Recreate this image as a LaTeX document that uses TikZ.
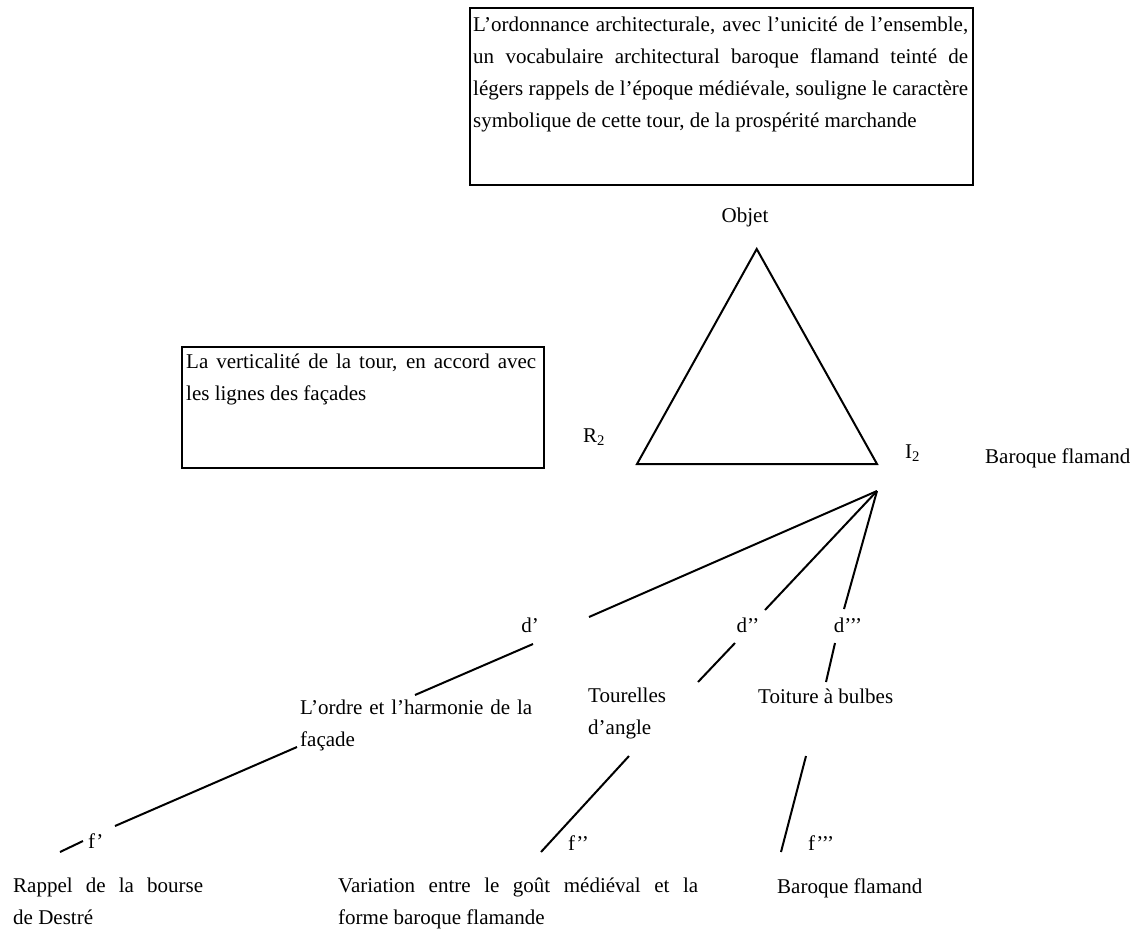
\documentclass[tikz,border=0pt]{standalone}
\usepackage{fontspec}
\setmainfont{Liberation Serif}
% a justified line: stretches its inter-word spaces to the given width
\newcommand\justline[2]{\makebox[#1][s]{#2}}
\begin{document}
\begin{tikzpicture}[x=1pt,y=-1pt,
  frame/.style={draw, line width=2pt, inner sep=0pt, anchor=north west},
  txt/.style={inner sep=0pt, anchor=base west, font=\fontsize{21}{32.3}\selectfont},
  lbl/.style={inner sep=0pt, anchor=base, font=\fontsize{21}{32.3}\selectfont},
  link/.style={line width=2pt},
  tri/.style={line width=2pt, line join=miter}]
\fill[white] (0,0) rectangle (1143,935);
\useasboundingbox (0,0) rectangle (1143,935);

% framed paragraphs
\node[frame, minimum width=503pt, minimum height=177pt] (topbox) at (469,7) {};
\node[txt] (toptext) at (473,31) {\parbox[t]{495pt}{%
  \justline{495pt}{L’ordonnance architecturale, avec l’unicité de l’ensemble,}\\
  \justline{495pt}{un vocabulaire architectural baroque flamand teinté de}\\
  \justline{495pt}{légers rappels de l’époque médiévale, souligne le caractère}\\
  symbolique de cette tour, de la prospérité marchande}};

\node[frame, minimum width=362pt, minimum height=121pt] (leftbox) at (181,346) {};
\node[txt] (lefttext) at (186,368) {\parbox[t]{350pt}{%
  \justline{350pt}{La verticalité de la tour, en accord avec}\\
  les lignes des façades}};

% semiotic triangle
\node[lbl] (objet) at (745,222) {Objet};
\coordinate (apex) at (756.7,249);
\coordinate (rleft) at (637,464);
\coordinate (iright) at (877,464);
\draw[tri] (apex) -- (rleft) -- (iright) -- cycle;
\node[txt] (r2) at (583,442) {R\textsubscript{2}};
\node[txt] (i2) at (905,458) {I\textsubscript{2}};
\node[txt] (baroqueI) at (985,463) {Baroque flamand};

% first level of the tree
\coordinate (hub) at (877,491);
\node[lbl] (d1) at (530,632) {d’};
\node[lbl] (d2) at (748,632) {d’’};
\node[lbl] (d3) at (848,632) {d’’’};
\coordinate (d1top) at (589,617);
\coordinate (d2top) at (765,610);
\coordinate (d3top) at (844,609);
\draw[link] (hub) -- (d1top);
\draw[link] (hub) -- (d2top);
\draw[link] (hub) -- (d3top);

% second level
\node[txt] (ordre) at (300,714) {\parbox[t]{232pt}{%
  \justline{232pt}{L’ordre et l’harmonie de la}\\
  façade}};
\node[txt] (tourelles) at (588,702) {\parbox[t]{140pt}{Tourelles\\d’angle}};
\node[txt] (toiture) at (758,703) {Toiture à bulbes};
\coordinate (d1bot) at (533,644);
\coordinate (ordretop) at (415,695);
\coordinate (d2bot) at (735,643);
\coordinate (tourtop) at (698,682);
\coordinate (d3bot) at (835,643);
\coordinate (toittop) at (826,682);
\draw[link] (d1bot) -- (ordretop);
\draw[link] (d2bot) -- (tourtop);
\draw[link] (d3bot) -- (toittop);

% third level
\node[txt] (f1) at (88,848) {f’};
\node[txt] (f2) at (568,850) {f’’};
\node[txt] (f3) at (808,850) {f’’’};
\coordinate (facade) at (297,747);
\coordinate (f1top) at (115,826);
\coordinate (f1a) at (83,841);
\coordinate (f1b) at (60,852);
\coordinate (tourbot) at (629,756);
\coordinate (f2end) at (541,852);
\coordinate (toitbot) at (806,756);
\coordinate (f3end) at (781,852);
\draw[link] (facade) -- (f1top);
\draw[link] (f1a) -- (f1b);
\draw[link] (tourbot) -- (f2end);
\draw[link] (toitbot) -- (f3end);

\node[txt] (rappel) at (13,892) {\parbox[t]{190pt}{%
  \justline{190pt}{Rappel de la bourse}\\
  de Destré}};
\node[txt] (variation) at (338,892) {\parbox[t]{360pt}{%
  \justline{360pt}{Variation entre le goût médiéval et la}\\
  forme baroque flamande}};
\node[txt] (baroqueF) at (777,893) {Baroque flamand};
\end{tikzpicture}
\end{document}
